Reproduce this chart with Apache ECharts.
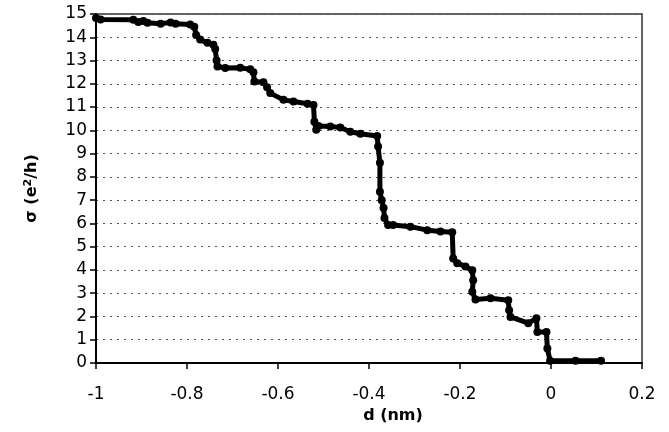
<!DOCTYPE html>
<html>
<head>
<meta charset="utf-8">
<script src="https://cdn.jsdelivr.net/npm/echarts@6/dist/echarts.min.js"></script>
<style>
html,body{margin:0;padding:0;background:#fff;}
#chart{width:669px;height:432px;}
</style>
</head>
<body>
<div id="chart"></div>
<script>
// Distance d (nm)
var dValues = [-1.0, -0.99, -0.918, -0.907, -0.896, -0.887, -0.858, -0.836, -0.825, -0.793,
  -0.784, -0.78, -0.771, -0.755, -0.742, -0.738, -0.735, -0.733, -0.716, -0.683,
  -0.661, -0.654, -0.652, -0.632, -0.624, -0.617, -0.588, -0.566, -0.535, -0.522,
  -0.52, -0.516, -0.511, -0.485, -0.463, -0.441, -0.419, -0.382, -0.38, -0.376,
  -0.376, -0.372, -0.368, -0.366, -0.358, -0.347, -0.309, -0.272, -0.243, -0.217,
  -0.215, -0.206, -0.188, -0.173, -0.171, -0.173, -0.166, -0.133, -0.094, -0.092,
  -0.089, -0.05, -0.032, -0.03, -0.01, -0.008, -0.002, 0.054, 0.11];
// Conductance sigma (e^2/h)
var sigmaValues = [14.83, 14.76, 14.75, 14.66, 14.7, 14.62, 14.58, 14.64, 14.58, 14.55,
  14.45, 14.1, 13.9, 13.76, 13.68, 13.5, 13.0, 12.74, 12.68, 12.69,
  12.62, 12.5, 12.1, 12.07, 11.85, 11.6, 11.31, 11.24, 11.14, 11.09,
  10.37, 10.02, 10.19, 10.17, 10.12, 9.94, 9.85, 9.76, 9.3, 8.61,
  7.36, 7.0, 6.66, 6.23, 5.93, 5.93, 5.86, 5.71, 5.65, 5.62,
  4.49, 4.29, 4.15, 3.99, 3.56, 3.06, 2.73, 2.78, 2.70, 2.27,
  1.98, 1.71, 1.92, 1.33, 1.33, 0.62, 0.1, 0.1, 0.1];
var xTickLabels = ['-1', '-0.8', '-0.6', '-0.4', '-0.2', '0', '0.2'];
var yTickLabels = ['0','1','2','3','4','5','6','7','8','9','10','11','12','13','14','15'];

var seriesData = dValues.map(function (d, i) { return [d, sigmaValues[i]]; });

var chart = echarts.init(document.getElementById('chart'), null, {renderer: 'canvas'});
var font = '"DejaVu Sans", sans-serif';
chart.setOption({
  animation: false,
  backgroundColor: '#fff',
  grid: {left: 96, right: 27, top: 14, bottom: 69, show: true, borderColor: '#333', borderWidth: 1.5, backgroundColor: 'transparent'},
  xAxis: {
    type: 'value', min: -1, max: 0.2, interval: 0.2,
    name: 'd (nm)', nameLocation: 'middle', nameGap: 41,
    nameTextStyle: {fontFamily: font, fontSize: 16, fontWeight: 'bold', color: '#000', padding: [0, 0, 0, 48]},
    axisLine: {show: true, onZero: false, lineStyle: {color: '#000', width: 2}},
    axisTick: {show: true, inside: false, length: 6, lineStyle: {color: '#000', width: 1.5}},
    axisLabel: {margin: 23, fontFamily: font, fontSize: 17, color: '#000',
      formatter: function (v) { return xTickLabels[Math.round((v + 1) / 0.2)]; }},
    splitLine: {show: false}
  },
  yAxis: {
    type: 'value', min: 0, max: 15, interval: 1,
    name: '{a|σ (e}{s|2}{a|/h)}', nameLocation: 'middle', nameGap: 56,
    nameTextStyle: {rich: {
      a: {fontFamily: font, fontSize: 16, fontWeight: 'bold', color: '#000'},
      s: {fontFamily: font, fontSize: 11, fontWeight: 'bold', color: '#000', verticalAlign: 'top', padding: [0, 0, 6, 0]}
    }},
    axisLine: {show: true, onZero: false, lineStyle: {color: '#000', width: 2}},
    axisTick: {show: true, inside: false, length: 6, lineStyle: {color: '#000', width: 1.5}},
    axisLabel: {margin: 9, fontFamily: font, fontSize: 17, color: '#000',
      formatter: function (v) { return yTickLabels[Math.round(v)]; }},
    splitLine: {show: true, lineStyle: {color: '#555', width: 1, type: [2, 5]}}
  },
  series: [{
    type: 'line',
    data: seriesData,
    symbol: 'circle',
    symbolSize: 8,
    showSymbol: true,
    itemStyle: {color: '#000'},
    lineStyle: {color: '#000', width: 5, join: 'round', cap: 'round'},
    clip: false
  }]
});
</script>
</body>
</html>
